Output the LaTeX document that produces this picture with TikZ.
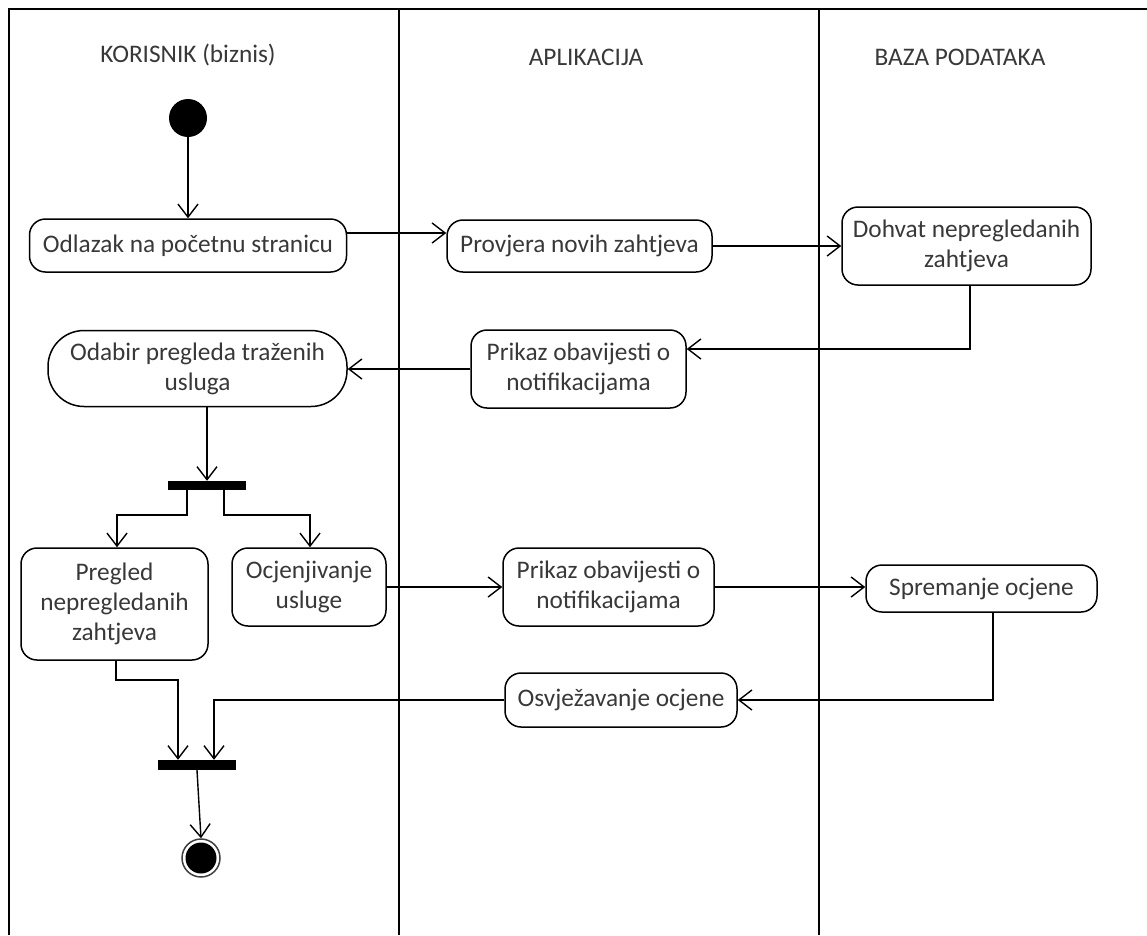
\documentclass[tikz,border=0pt]{standalone}
\usepackage{fontspec}
\setmainfont{Carlito}
\usetikzlibrary{arrows.meta}
\definecolor{txt}{HTML}{383838}
\newcommand\dfont{\fontsize{25.3}{30}\selectfont}
\tikzset{
  act/.style={draw, line width=1.5pt, rounded corners=16pt, inner sep=0pt, align=center, font=\dfont, text=txt},
  hdr/.style={font=\dfont, text=txt, inner sep=0pt},
  bar/.style={fill=black, draw=none, inner sep=0pt},
  arr/.style={draw, line width=1.4pt, -{Straight Barb[length=13pt,width=20pt,line width=1.4pt]}},
  ln/.style={draw, line width=1.4pt},
  lane/.style={draw, line width=1.8pt}
}
\begin{document}
\begin{tikzpicture}[x=1pt,y=-1pt]
\useasboundingbox (0,0) rectangle (1147,935);
% swimlanes
\draw[lane] (1147,9) -- (9,9) -- (9,935);
\draw[lane] (399,9) -- (399,935);
\draw[lane] (819,9) -- (819,935);
\node[hdr] (h1) at (188,55) {KORISNIK (biznis)};
\node[hdr] (h2) at (586,57) {APLIKACIJA};
\node[hdr] (h3) at (960,57) {BAZA PODATAKA};
% nodes
\node[circle, fill=black, inner sep=0pt, minimum size=38pt] (start) at (188,118) {};
\node[act, minimum width=317pt, minimum height=53pt] (odl) at (188,245.5) {Odlazak na početnu stranicu};
\node[act, minimum width=265pt, minimum height=52pt] (prov) at (579.5,246) {Provjera novih zahtjeva};
\node[act, minimum width=249pt, minimum height=78pt] (dohv) at (966.5,246) {Dohvat nepregledanih\\zahtjeva};
\node[act, minimum width=215pt, minimum height=78pt] (prik1) at (578.5,369) {Prikaz obavijesti o\\notifikacijama};
\node[act, rounded corners=36pt, minimum width=299pt, minimum height=76pt] (odab) at (197.5,368.5) {Odabir pregleda traženih\\usluga};
\node[bar, minimum width=78pt, minimum height=9pt] (fork1) at (207,485.5) {};
\node[act, minimum width=187pt, minimum height=112pt] (preg) at (114.5,604) {Pregled\\nepregledanih\\zahtjeva};
\node[act, minimum width=154pt, minimum height=78pt] (ocj) at (309,587) {Ocjenjivanje\\usluge};
\node[act, minimum width=211pt, minimum height=78pt] (prik2) at (608.5,587) {Prikaz obavijesti o\\notifikacijama};
\node[act, minimum width=231pt, minimum height=47pt] (sprem) at (981.5,588.5) {Spremanje ocjene};
\node[act, minimum width=232pt, minimum height=54pt] (osv) at (621,700) {Osvježavanje ocjene};
\node[bar, minimum width=78pt, minimum height=10pt] (fork2) at (197,765) {};
\node[circle, draw=black!75, line width=1.5pt, inner sep=0pt, minimum size=38pt] (end) at (201,858) {};
\node[circle, fill=black, inner sep=0pt, minimum size=31pt] (endin) at (end.center) {};
% helper coordinates
\coordinate (y1) at (0,233);
\coordinate (c1) at (970,349);
\coordinate (f1a) at (187,515);
\coordinate (f1b) at (117,515);
\coordinate (f1c) at (224,515);
\coordinate (f1d) at (310,515);
\coordinate (c2) at (993,700);
\coordinate (c3) at (214,700);
\coordinate (c4) at (116,680);
\coordinate (c5) at (178,680);
% connectors
\draw[arr] (start) -- (odl);
\draw[arr] (odl.east |- y1) -- (prov.west |- y1);
\draw[arr] (prov.east) -- (prov.east -| dohv.west);
\draw[arr] (c1 |- dohv.south) -- (c1) -- (c1 -| prik1.east);
\draw[arr] (prik1.west) -- (prik1.west -| odab.east);
\draw[arr] (odab.south -| fork1.north) -- (fork1.north);
\draw[arr] (fork1.south -| f1a) -- (f1a) -- (f1b) -- (f1b |- preg.north);
\draw[arr] (fork1.south -| f1c) -- (f1c) -- (f1d) -- (f1d |- ocj.north);
\draw[arr] (ocj.east) -- (ocj.east -| prik2.west);
\draw[arr] (prik2.east) -- (prik2.east -| sprem.west);
\draw[arr] (c2 |- sprem.south) -- (c2) -- (c2 -| osv.east);
\draw[arr] (osv.west) -- (c3) -- (c3 |- fork2.north);
\draw[arr] (c4 |- preg.south) -- (c4) -- (c5) -- (c5 |- fork2.north);
\draw[arr] (fork2.south) -- (end.north);
\end{tikzpicture}
\end{document}
